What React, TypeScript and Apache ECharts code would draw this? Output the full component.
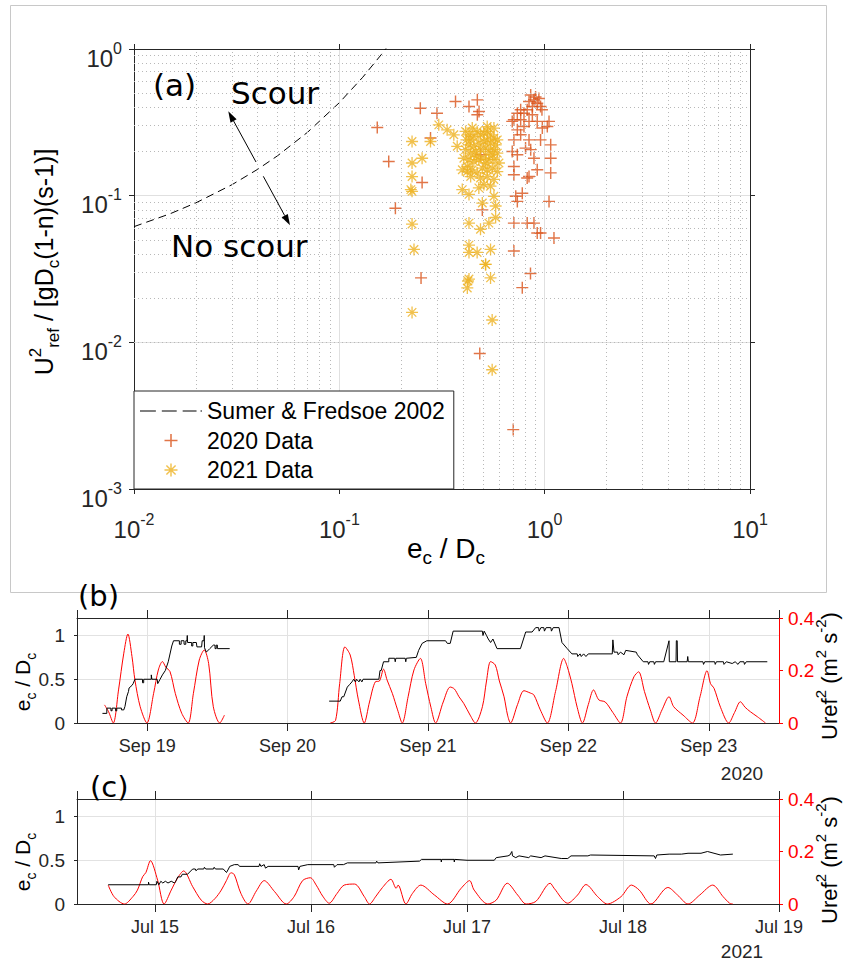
import React, { useEffect, useRef } from 'react';
import * as echarts from 'echarts';

// ---------- Panel (a) data ----------
const sumerX = [0.01, 0.015, 0.02, 0.03, 0.04, 0.05, 0.07, 0.1, 0.13, 0.16, 0.17];
const sumerY = [0.0615, 0.0753, 0.0893, 0.1188, 0.1512, 0.187, 0.2705, 0.4305, 0.6415, 0.915, 1.022];

const data2020: number[][] = [
  [0.153, 0.292], [0.174, 0.171], [0.1875, 0.082], [0.248, 0.394], [0.253, 0.123], [0.25, 0.0275],
  [0.278, 0.247], [0.299, 0.365], [0.368, 0.438], [0.428, 0.406], [0.47, 0.45], [0.479, 0.375],
  [0.47, 0.356], [0.488, 0.19], [0.497, 0.08], [0.483, 0.0084],
  [0.855, 0.486], [0.887, 0.45], [0.92, 0.427], [0.871, 0.405], [0.955, 0.405], [0.822, 0.385],
  [0.764, 0.385], [0.736, 0.365], [0.708, 0.329], [0.695, 0.321], [0.736, 0.281], [0.793, 0.296],
  [0.839, 0.321], [0.92, 0.321], [1.05, 0.321], [1.03, 0.296], [0.764, 0.26], [0.839, 0.24],
  [0.955, 0.24], [1.07, 0.222], [0.708, 0.24], [0.807, 0.211], [0.736, 0.19], [0.887, 0.18],
  [1.07, 0.18], [0.708, 0.158], [0.92, 0.15], [1.07, 0.143], [0.708, 0.139], [0.839, 0.135],
  [0.822, 0.132], [0.723, 0.099], [0.778, 0.104], [0.736, 0.0914], [1.05, 0.0914], [0.708, 0.065],
  [0.822, 0.065], [0.887, 0.065], [0.92, 0.0557], [0.955, 0.0557], [1.11, 0.0515], [0.708, 0.042],
  [0.853, 0.0295], [0.778, 0.0236], [0.703, 0.00254],
  [0.903, 0.47], [0.839, 0.438], [0.937, 0.46], [0.793, 0.365], [0.871, 0.356], [0.97, 0.385],
  [0.974, 0.289], [0.764, 0.329], [0.695, 0.2], [0.855, 0.206],
];

const data2021: number[][] = [
  [0.226, 0.234], [0.226, 0.167], [0.226, 0.135], [0.223, 0.11], [0.226, 0.107], [0.226, 0.064],
  [0.231, 0.043], [0.226, 0.016], [0.253, 0.18], [0.278, 0.234], [0.305, 0.304], [0.335, 0.281],
  [0.361, 0.26], [0.375, 0.217],
  [0.412, 0.274], [0.428, 0.26], [0.436, 0.24], [0.452, 0.253], [0.469, 0.274], [0.487, 0.26],
  [0.506, 0.267], [0.525, 0.274], [0.545, 0.26], [0.566, 0.247], [0.588, 0.24], [0.428, 0.222],
  [0.452, 0.217], [0.478, 0.228], [0.506, 0.234], [0.525, 0.24], [0.545, 0.228], [0.577, 0.222],
  [0.412, 0.206], [0.436, 0.195], [0.461, 0.2], [0.487, 0.206], [0.516, 0.211], [0.535, 0.2],
  [0.566, 0.206], [0.588, 0.195], [0.404, 0.18], [0.428, 0.176], [0.452, 0.171], [0.478, 0.176],
  [0.506, 0.18], [0.535, 0.176], [0.566, 0.176], [0.599, 0.167], [0.397, 0.15], [0.42, 0.146],
  [0.444, 0.15], [0.469, 0.143], [0.497, 0.154], [0.525, 0.15], [0.556, 0.154], [0.588, 0.146],
  [0.436, 0.135], [0.487, 0.132], [0.525, 0.135], [0.566, 0.129], [0.397, 0.11], [0.428, 0.102],
  [0.478, 0.113], [0.506, 0.119], [0.545, 0.116], [0.497, 0.089], [0.566, 0.099], [0.577, 0.085],
  [0.535, 0.065], [0.487, 0.059], [0.428, 0.065], [0.577, 0.071], [0.428, 0.046], [0.428, 0.041],
  [0.469, 0.041], [0.545, 0.043], [0.516, 0.034], [0.428, 0.027], [0.545, 0.0275], [0.42, 0.0235],
  [0.423, 0.0262], [0.515, 0.034], [0.555, 0.0142], [0.555, 0.0065],
  [0.444, 0.289], [0.525, 0.296], [0.566, 0.289], [0.416, 0.24], [0.465, 0.185], [0.556, 0.19],
  [0.516, 0.167], [0.42, 0.158],
];

// ---------- Panel (b) data: hours since 18 Sep 2020 00:00 ----------
const bBlack1: number[][] = [
  [16.35, 0.11], [17.1, 0.11], [17.1, 0.17], [17.8, 0.17], [17.8, 0.14], [18.0, 0.14], [18.0, 0.17],
  [18.6, 0.17], [18.6, 0.14], [18.8, 0.14], [18.8, 0.17], [19.6, 0.17], [19.6, 0.15], [20.0, 0.15],
  [20.2, 0.19], [20.5, 0.3], [20.8, 0.36], [20.9, 0.4], [21.4, 0.43], [21.6, 0.45], [21.9, 0.5],
  [23.2, 0.5], [23.2, 0.46], [23.4, 0.46], [23.4, 0.5], [24.7, 0.5], [24.7, 0.55], [24.8, 0.5],
  [25.7, 0.5], [25.8, 0.45], [26.2, 0.5], [26.6, 0.55], [27.1, 0.6], [27.6, 0.7], [28.2, 0.88],
  [28.5, 0.94], [29.5, 0.94], [29.5, 0.9], [29.8, 0.9], [29.8, 0.94], [30.3, 0.94], [30.3, 0.9],
  [30.6, 0.9], [30.6, 0.94], [30.8, 0.94], [30.85, 1.0], [30.9, 0.92], [31.6, 0.92], [31.6, 0.88],
  [31.8, 0.88], [31.8, 0.92], [32.4, 0.92], [32.5, 0.87], [33.3, 0.87], [33.4, 0.94], [33.7, 0.94],
  [33.75, 1.0], [33.8, 0.86], [34.1, 0.81], [34.7, 0.85], [35.3, 0.89], [35.6, 0.89], [35.6, 0.85],
  [35.8, 0.85], [35.8, 0.89], [36.0, 0.89], [36.0, 0.85], [38.1, 0.85],
];
const bRed1: number[][] = [
  [16.7, 0.069], [17.4, 0.043], [18.2, 0], [19.1, 0.126], [20.0, 0.266], [20.7, 0.339], [21.4, 0.253],
  [21.9, 0.164], [22.8, 0.062], [23.95, 0], [25.1, 0.113], [25.9, 0.202], [26.6, 0.234], [27.2, 0.212],
  [27.9, 0.196], [28.8, 0.113], [29.9, 0.037], [31.0, 0], [31.9, 0.113], [32.9, 0.24], [33.75, 0.278],
  [34.5, 0.227], [35.3, 0.062], [36.4, 0], [37.2, 0.03],
];
const bBlack2: number[][] = [
  [55.1, 0.25], [57.0, 0.25], [57.3, 0.3], [57.6, 0.3], [58.2, 0.41], [58.6, 0.44], [59.0, 0.47],
  [59.3, 0.5], [59.6, 0.47], [59.8, 0.5], [60.2, 0.47], [60.4, 0.5], [60.7, 0.47], [60.9, 0.5],
  [63.6, 0.5], [63.8, 0.6], [64.0, 0.6], [64.4, 0.7], [65.3, 0.7], [65.3, 0.74], [66.3, 0.74],
  [66.4, 0.7], [66.5, 0.74], [68.1, 0.74], [68.2, 0.7], [68.3, 0.74], [70.0, 0.75], [70.4, 0.83],
  [71.0, 0.91], [71.8, 0.94], [75.0, 0.94], [75.3, 0.91], [75.8, 0.91], [76.3, 1.05], [81.3, 1.05],
  [81.4, 1.0], [81.6, 1.05], [82.0, 1.0], [82.3, 0.96], [82.7, 0.92], [83.1, 0.96], [83.8, 0.85],
  [87.8, 0.85], [88.7, 1.04], [89.8, 1.04], [90.4, 1.09], [90.9, 1.09], [91.0, 1.05], [91.3, 1.09],
  [91.8, 1.09], [91.9, 1.05], [92.2, 1.09], [93.0, 1.09], [93.1, 1.05], [93.4, 1.09], [94.4, 1.09],
  [94.9, 0.92], [95.8, 0.85], [96.6, 0.79], [97.5, 0.79], [97.6, 0.76], [98.0, 0.79], [98.2, 0.76],
  [98.6, 0.79], [99.0, 0.76], [99.4, 0.79], [103.5, 0.79], [103.6, 0.95], [103.8, 0.81], [104.4, 0.81],
  [104.5, 0.78], [104.9, 0.81], [105.5, 0.78], [105.8, 0.83], [107.6, 0.81], [107.8, 0.78], [108.8, 0.7],
  [109.6, 0.7], [109.7, 0.67], [109.9, 0.7], [110.6, 0.7], [110.7, 0.67], [110.9, 0.7], [112.3, 0.7],
  [113.2, 0.94], [113.25, 0.7], [114.4, 0.7], [114.45, 0.94], [114.6, 0.94], [114.65, 0.7], [116.3, 0.7],
  [116.4, 0.76], [116.5, 0.7], [119.0, 0.7], [119.1, 0.67], [119.3, 0.7], [121.0, 0.7], [121.1, 0.67],
  [121.3, 0.7], [122.5, 0.7], [122.6, 0.67], [123.0, 0.7], [124.0, 0.68], [124.5, 0.7], [125.0, 0.67],
  [125.3, 0.7], [126.0, 0.7], [126.1, 0.67], [126.4, 0.7], [130.0, 0.7],
];
const bRed2: number[][] = [
  [55.3, 0], [56.2, 0.01], [56.9, 0.15], [57.8, 0.29], [58.7, 0.259], [59.4, 0.18], [60.1, 0.088],
  [61.1, 0], [62.0, 0.08], [63.0, 0.157], [63.7, 0.16], [64.4, 0.205], [65.0, 0.164], [65.9, 0.113],
  [66.8, 0.05], [67.6, 0], [68.6, 0.1], [69.6, 0.202], [70.7, 0.246], [71.6, 0.151], [72.5, 0.06],
  [73.3, 0], [74.6, 0.08], [75.8, 0.137], [76.5, 0.13], [77.3, 0.1], [78.1, 0.075], [79.2, 0.03],
  [80.1, 0], [81.3, 0.062], [82.0, 0.16], [82.7, 0.234], [83.5, 0.221], [84.2, 0.16], [85.0, 0.1],
  [85.6, 0.03], [86.1, 0], [87.3, 0.07], [88.4, 0.123], [89.5, 0.114], [90.1, 0.107], [91.2, 0.05],
  [92.4, 0], [93.8, 0.12], [95.2, 0.246], [95.8, 0.215], [96.6, 0.15], [97.5, 0.06], [98.4, 0],
  [99.4, 0.07], [100.3, 0.126], [101.2, 0.088], [102.3, 0.08], [103.6, 0.04], [104.9, 0], [106.0, 0.1],
  [107.2, 0.176], [108.0, 0.195], [109.0, 0.12], [110.0, 0.05], [110.9, 0], [112.0, 0.05], [113.2, 0.1],
  [114.0, 0.062], [115.6, 0.03], [117.2, 0], [118.5, 0.1], [119.7, 0.199], [120.3, 0.15], [120.9, 0.132],
  [122.0, 0.06], [123.4, 0], [124.4, 0.04], [125.4, 0.081], [126.2, 0.06], [127.1, 0.043],
  [128.3, 0.024], [129.7, 0],
];

// ---------- Panel (c) data: hours since 14 Jul 2021 00:00 ----------
const cBlack: number[][] = [
  [16.8, 0.22], [23.0, 0.22], [23.0, 0.25], [23.1, 0.22], [24.2, 0.22], [24.3, 0.26], [24.6, 0.22],
  [24.9, 0.26], [25.2, 0.24], [25.6, 0.26], [26.0, 0.24], [26.5, 0.26], [27.0, 0.24], [27.2, 0.26],
  [27.5, 0.31], [28.0, 0.31], [28.2, 0.34], [29.0, 0.34], [29.8, 0.4], [30.2, 0.4], [30.3, 0.38],
  [30.6, 0.4], [31.5, 0.4], [31.6, 0.42], [31.8, 0.4], [33.0, 0.4], [33.1, 0.42], [33.3, 0.4],
  [34.5, 0.4], [35.0, 0.36], [35.3, 0.4], [35.5, 0.43], [36.2, 0.45], [36.8, 0.45], [37.0, 0.43],
  [40.0, 0.43], [40.1, 0.46], [40.3, 0.43], [40.8, 0.45], [41.0, 0.41], [41.4, 0.43], [46.0, 0.43],
  [46.1, 0.39], [46.3, 0.43], [47.5, 0.45], [51.5, 0.45], [51.6, 0.42], [52.0, 0.45], [53.0, 0.45],
  [53.6, 0.47], [58.0, 0.47], [58.1, 0.49], [58.3, 0.47], [64.7, 0.49], [65.0, 0.51], [68.0, 0.51],
  [68.05, 0.48], [68.1, 0.51], [70.0, 0.51], [70.05, 0.48], [70.1, 0.51], [72.0, 0.5], [76.2, 0.5],
  [76.5, 0.53], [78.3, 0.55], [78.6, 0.56], [78.9, 0.6], [79.0, 0.55], [79.5, 0.53], [80.0, 0.55],
  [81.5, 0.53], [81.8, 0.55], [83.4, 0.53], [84.0, 0.55], [86.5, 0.52], [87.5, 0.52], [88.0, 0.55],
  [90.6, 0.55], [91.0, 0.56], [100.8, 0.55], [101.0, 0.52], [101.2, 0.56], [103.1, 0.57], [105.0, 0.57],
  [106.0, 0.58], [108.0, 0.58], [109.0, 0.6], [110.0, 0.58], [111.0, 0.56], [112.9, 0.57],
];
const cRed: number[][] = [
  [16.8, 0.072], [17.7, 0.028], [19.3, 0], [20.6, 0.028], [21.3, 0.053], [22.1, 0.104], [22.6, 0.12],
  [23.3, 0.165], [24.4, 0.091], [25.4, 0], [26.5, 0.053], [27.5, 0.1], [28.4, 0.126], [29.8, 0.066],
  [31.1, 0.015], [32.1, 0], [33.2, 0.02], [34.2, 0.053], [35.0, 0.09], [35.7, 0.119], [36.2, 0.112],
  [37.2, 0.041], [38.3, 0], [39.6, 0.05], [40.8, 0.089], [42.4, 0.047], [44.2, 0], [45.4, 0.028],
  [46.7, 0.089], [47.9, 0.1], [48.8, 0.072], [49.8, 0.03], [50.8, 0.003], [52.0, 0.04], [53.1, 0.072],
  [54.7, 0.076], [56.2, 0.028], [57.0, 0], [58.0, 0.03], [59.0, 0.063], [60.3, 0.094], [61.1, 0.06],
  [61.4, 0.072], [62.6, 0], [63.6, 0.04], [64.9, 0.072], [67.0, 0.034], [69.0, 0], [71.1, 0.06],
  [72.4, 0.089], [73.1, 0.053], [75.2, 0], [76.5, 0.015], [78.2, 0.079], [79.8, 0.034], [81.1, 0],
  [82.6, 0.01], [84.8, 0.079], [85.4, 0.06], [87.5, 0.003], [89.0, 0.034], [90.3, 0.074], [92.1, 0.028],
  [93.6, 0], [95.7, 0.028], [97.3, 0.072], [98.5, 0.053], [100.3, 0], [102.9, 0.063], [104.4, 0.034],
  [106.0, 0], [107.8, 0.034], [109.8, 0.072], [111.4, 0.028], [112.4, 0.003], [112.9, 0],
];

const FONT = '"Liberation Sans", Arial, sans-serif';
const DV = '"DejaVu Sans", sans-serif';
const AX = '#262626';
const RED = '#ff0000';
const HOUR = 3600000;
const DAY = 24 * HOUR;

const plusPath = 'path://M4.4,0H5.6V10H4.4Z M0,4.4H10V5.6H0Z';
const starPath =
  'path://M4.45,0H5.55V10H4.45Z M0,4.45H10V5.55H0Z M1.85,1.07L8.93,8.15L8.15,8.93L1.07,1.85Z M8.93,1.85L1.85,8.93L1.07,8.15L8.15,1.07Z';
const dashIcon = 'path://M0,0H16V1.2H0Z M22,0H37V1.2H22Z M43,0H57V1.2H43Z M61,0H62.5V1.2H61Z';

function buildOption() {
  const baseB = new Date(2020, 8, 18).getTime();
  const baseC = new Date(2021, 6, 14).getTime();
  const toT = (base: number, arr: number[][]) => arr.map(([h, v]) => [base + h * HOUR, v]);

  const minorVals = (lo: number, hi: number) => {
    const out: number[] = [];
    for (let e = lo; e < hi; e++) for (let m = 2; m <= 9; m++) out.push(m * Math.pow(10, e));
    return out;
  };

  const logRich = {
    b: { fontSize: 24, lineHeight: 30, verticalAlign: 'bottom', color: AX, fontFamily: FONT },
    s: { fontSize: 16, lineHeight: 16, verticalAlign: 'top', color: AX, fontFamily: FONT },
  };
  const logFmt = (v: number) => '{b|10}{s|' + Math.round(Math.log10(v)) + '}';

  const titleRich = (size: number, color: string) => ({
    m: { fontSize: size, lineHeight: size + 10, verticalAlign: 'middle', color, fontFamily: FONT },
    d: { fontSize: Math.round(size * 0.68), lineHeight: Math.round(size * 0.68), verticalAlign: 'bottom', color, fontFamily: FONT },
    p: { fontSize: Math.round(size * 0.68), lineHeight: Math.round(size * 0.68), verticalAlign: 'top', color, fontFamily: FONT },
  });

  const timeX = (grid: number, min: number, max: number, top: boolean, showMax: boolean) => ({
    gridIndex: grid,
    type: 'time',
    position: top ? 'top' : 'bottom',
    min,
    max,
    minInterval: DAY,
    maxInterval: DAY,
    axisLine: { show: true, onZero: false, lineStyle: { color: AX, width: 1 } },
    axisTick: { show: true, length: 8, lineStyle: { color: AX } },
    axisLabel: top
      ? { show: false }
      : {
          show: true, formatter: '{MMM} {d}', fontSize: 18, color: AX, fontFamily: FONT, margin: 14,
          hideOverlap: false, showMaxLabel: showMax, showMinLabel: false,
        },
    splitLine: { show: !top, lineStyle: { color: '#e2e2e2', width: 1 } },
  });
  const leftY = (grid: number) => ({
    gridIndex: grid,
    type: 'value',
    position: 'left',
    min: 0,
    max: 1.2,
    interval: 0.5,
    axisLine: { show: true, onZero: false, lineStyle: { color: AX } },
    axisTick: { show: true, length: 3, lineStyle: { color: AX } },
    axisLabel: { showMaxLabel: false, fontSize: 19, color: AX, fontFamily: FONT, margin: 12 },
    splitLine: { show: true, lineStyle: { color: '#e2e2e2' } },
  });
  const rightY = (grid: number) => ({
    gridIndex: grid,
    type: 'value',
    position: 'right',
    min: 0,
    max: 0.4,
    interval: 0.2,
    axisLine: { show: true, onZero: false, lineStyle: { color: RED } },
    axisTick: { show: true, length: 4, lineStyle: { color: RED } },
    axisLabel: { fontSize: 19, color: RED, fontFamily: FONT, margin: 9 },
    splitLine: { show: false },
  });

  const lineS = (x: number, y: number, data: number[][], color: string) => ({
    type: 'line',
    xAxisIndex: x,
    yAxisIndex: y,
    data,
    showSymbol: false,
    symbol: 'none',
    lineStyle: { color, width: 1 },
    z: color === RED ? 3 : 4,
  });
  const redLine = (x: number, y: number, data: number[][]) => ({ ...lineS(x, y, data, RED), smooth: 0.3 });

  const bMin = baseB + 12 * HOUR;
  const bMax = baseB + 132 * HOUR;
  const cMin = baseC + 12 * HOUR;
  const cMax = baseC + 120 * HOUR;

  const textEl = (x: number, y: number, text: string, size: number, extra: any = {}) => ({
    type: 'text',
    x,
    y,
    z: 50,
    style: { text, fontSize: size, fontFamily: DV, fill: '#000', verticalAlign: 'middle', ...extra },
  });

  return {
    animation: false,
    textStyle: { fontFamily: FONT },
    grid: [
      { left: 134, top: 49, width: 616, height: 440 },
      { left: 77, top: 618, width: 702, height: 105 },
      { left: 77, top: 799, width: 702, height: 105 },
    ],
    legend: {
      data: [
        { name: 'Sumer & Fredsoe 2002', icon: dashIcon },
        { name: '2020 Data' },
        { name: '2021 Data' },
      ],
      orient: 'vertical',
      left: 134,
      top: 391,
      padding: [8, 9, 7, 6],
      itemGap: 5.5,
      itemWidth: 62,
      itemHeight: 13,
      selectedMode: false,
      backgroundColor: '#ffffff',
      borderColor: AX,
      borderWidth: 1,
      borderRadius: 0,
      textStyle: { fontSize: 23, lineHeight: 24, color: '#000', fontFamily: FONT },
      z: 10,
    },
    xAxis: [
      {
        gridIndex: 0, type: 'log', logBase: 10, min: 0.01, max: 10, position: 'bottom',
        axisLine: { show: true, onZero: false, lineStyle: { color: AX } },
        axisTick: { show: true, length: 5, lineStyle: { color: AX } },
        axisLabel: { formatter: logFmt, rich: logRich, margin: 22 },
        splitLine: { show: true, lineStyle: { color: '#e0e0e0' } },
      },
      {
        gridIndex: 0, type: 'log', logBase: 10, min: 0.01, max: 10, position: 'top',
        axisLine: { show: true, onZero: false, lineStyle: { color: AX } },
        axisTick: { show: true, length: 5, lineStyle: { color: AX } },
        axisLabel: { show: false },
        splitLine: { show: false },
      },
      timeX(1, bMin, bMax, false, false),
      timeX(1, bMin, bMax, true, false),
      timeX(2, cMin, cMax, false, true),
      timeX(2, cMin, cMax, true, false),
    ],
    yAxis: [
      {
        gridIndex: 0, type: 'log', logBase: 10, min: 0.001, max: 1, position: 'left',
        axisLine: { show: true, onZero: false, lineStyle: { color: AX } },
        axisTick: { show: true, length: 5, lineStyle: { color: AX } },
        axisLabel: { formatter: logFmt, rich: logRich, margin: 12, padding: [12, 0, 0, 0] },
        splitLine: { show: true, lineStyle: { color: '#e0e0e0' } },
      },
      {
        gridIndex: 0, type: 'log', logBase: 10, min: 0.001, max: 1, position: 'right',
        axisLine: { show: true, onZero: false, lineStyle: { color: AX } },
        axisTick: { show: true, length: 5, lineStyle: { color: AX } },
        axisLabel: { show: false },
        splitLine: { show: false },
      },
      leftY(1),
      rightY(1),
      leftY(2),
      rightY(2),
    ],
    series: [
      {
        name: 'Sumer & Fredsoe 2002',
        type: 'line',
        xAxisIndex: 0,
        yAxisIndex: 0,
        data: sumerX.map((x, i) => [x, sumerY[i]]),
        showSymbol: false,
        symbol: 'none',
        lineStyle: { color: '#000', width: 1, type: [8, 5] },
        itemStyle: { color: '#000' },
        z: 3,
        markLine: {
          silent: true,
          symbol: ['none', 'none'],
          label: { show: false },
          lineStyle: { color: '#b8b8b8', type: [1, 3], width: 1 },
          animation: false,
          data: [
            ...minorVals(-2, 1).map((v) => ({ xAxis: v })),
            ...minorVals(-3, 0).map((v) => ({ yAxis: v })),
          ],
        },
      },
      {
        name: '2020 Data',
        type: 'scatter',
        xAxisIndex: 0,
        yAxisIndex: 0,
        data: data2020,
        symbol: plusPath,
        symbolSize: 12,
        itemStyle: { color: '#D95319' },
        z: 4,
      },
      {
        name: '2021 Data',
        type: 'scatter',
        xAxisIndex: 0,
        yAxisIndex: 0,
        data: data2021,
        symbol: starPath,
        symbolSize: 12,
        itemStyle: { color: '#EDB120' },
        z: 5,
      },
      lineS(2, 2, toT(baseB, bBlack1), '#000'),
      lineS(2, 2, toT(baseB, bBlack2), '#000'),
      redLine(2, 3, toT(baseB, bRed1)),
      redLine(2, 3, toT(baseB, bRed2)),
      lineS(4, 4, toT(baseC, cBlack), '#000'),
      redLine(4, 5, toT(baseC, cRed)),
    ],
    graphic: [
      { type: 'rect', z: 1, shape: { x: 10.5, y: 5.5, width: 816, height: 587 }, style: { fill: 'none', stroke: '#c8c8c8', lineWidth: 1 } },
      textEl(153, 85, '(a)', 31),
      textEl(231, 93, 'Scour', 31),
      textEl(171, 246, 'No scour', 31),
      { type: 'line', z: 50, shape: { x1: 256, y1: 162, x2: 233.6, y2: 121 }, style: { stroke: '#000', lineWidth: 1 } },
      { type: 'polygon', z: 50, shape: { points: [[228.3, 111.3], [236.6, 119.3], [230.5, 122.7]] }, style: { fill: '#000' } },
      { type: 'line', z: 50, shape: { x1: 263.3, y1: 176.3, x2: 284.7, y2: 215.6 }, style: { stroke: '#000', lineWidth: 1 } },
      { type: 'polygon', z: 50, shape: { points: [[290, 225.3], [287.8, 213.9], [281.6, 217.3]] }, style: { fill: '#000' } },
      {
        type: 'text', x: 446, y: 548, z: 50,
        style: { text: '{m|e}{d|c}{m| / D}{d|c}', rich: titleRich(28, AX), align: 'center', verticalAlign: 'middle' },
      },
      {
        type: 'text', x: 44, y: 262, z: 50, rotation: Math.PI / 2,
        style: { text: '{m|U}{p|2}{d|ref}{m| / [gD}{d|c}{m|(1-n)(s-1)]}', rich: titleRich(25, AX), align: 'center', verticalAlign: 'middle' },
      },
      textEl(78, 596, '(b)', 29),
      textEl(90, 787, '(c)', 29),
      {
        type: 'text', x: 22, y: 682, z: 50, rotation: Math.PI / 2,
        style: { text: '{m|e}{d|c}{m| / D}{d|c}', rich: titleRich(21, '#000'), align: 'center', verticalAlign: 'middle' },
      },
      {
        type: 'text', x: 22, y: 862, z: 50, rotation: Math.PI / 2,
        style: { text: '{m|e}{d|c}{m| / D}{d|c}', rich: titleRich(21, '#000'), align: 'center', verticalAlign: 'middle' },
      },
      {
        type: 'text', x: 829, y: 676, z: 50, rotation: Math.PI / 2,
        style: { text: '{m|Uref}{p|2}{m| (m}{p|2}{m| s}{p|-2}{m|)}', rich: titleRich(22, RED), align: 'center', verticalAlign: 'middle' },
      },
      {
        type: 'text', x: 829, y: 860, z: 50, rotation: Math.PI / 2,
        style: { text: '{m|Uref}{p|2}{m| (m}{p|2}{m| s}{p|-2}{m|)}', rich: titleRich(22, RED), align: 'center', verticalAlign: 'middle' },
      },
      { type: 'text', x: 742, y: 773, z: 50, style: { text: '2020', fontSize: 19, fontFamily: FONT, fill: AX, align: 'center', verticalAlign: 'middle' } },
      { type: 'text', x: 742, y: 951, z: 50, style: { text: '2021', fontSize: 19, fontFamily: FONT, fill: AX, align: 'center', verticalAlign: 'middle' } },
    ],
  };
}

export default function App() {
  const ref = useRef<HTMLDivElement>(null);
  useEffect(() => {
    if (!ref.current) return;
    const chart = echarts.init(ref.current, null, { renderer: 'svg' });
    chart.setOption(buildOption() as any);
    return () => chart.dispose();
  }, []);
  return (
    <div
      ref={ref}
      style={{ position: 'fixed', left: 0, top: 0, width: 846, height: 964, background: '#ffffff' }}
    />
  );
}
